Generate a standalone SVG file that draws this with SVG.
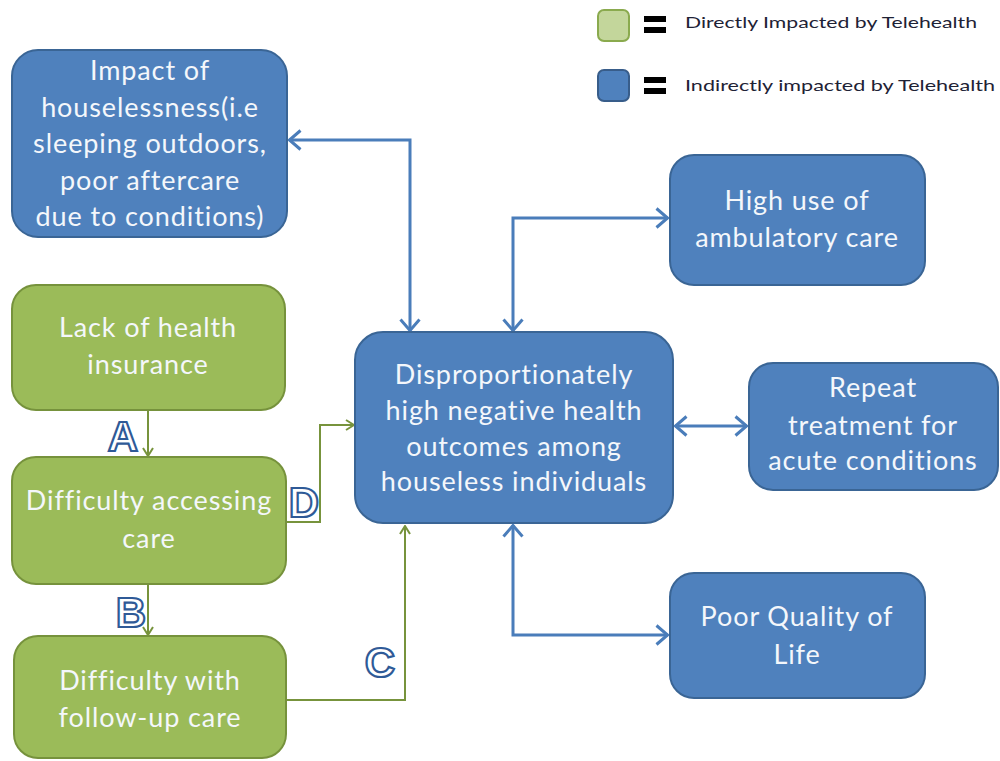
<svg xmlns="http://www.w3.org/2000/svg" width="1000" height="761" viewBox="0 0 1000 761">
  <style>
    .blue { fill: #4F81BD; stroke: #3A6595; stroke-width: 2; }
    .green { fill: #9BBB59; stroke: #76923C; stroke-width: 2; }
    .lbl { font-family: Lato, "Liberation Sans", sans-serif; font-size: 27px; letter-spacing: 0.9px; fill: #F4F7FB; text-anchor: middle; }
    .legend { font-family: Lato, "Liberation Sans", sans-serif; font-size: 16px; fill: #1E2235; }
    .conn-b { fill: none; stroke: #4A7DBA; stroke-width: 3; }
    .conn-g { fill: none; stroke: #77933C; stroke-width: 2; }
    .tag { font-family: "Liberation Sans", Arial, sans-serif; font-size: 42px; font-weight: bold; fill: #FFFFFF; stroke: #2F5A97; stroke-width: 2.2; text-anchor: middle; }
  </style>
  <defs>
    <marker id="ab" viewBox="0 0 14 22" refX="13" refY="11" markerWidth="14" markerHeight="22" markerUnits="userSpaceOnUse" orient="auto-start-reverse">
      <path d="M1.5,1.5 L12.5,11 L1.5,20.5" fill="none" stroke="#4A7DBA" stroke-width="3"/>
    </marker>
    <marker id="ag" viewBox="0 0 10 12" refX="9" refY="6" markerWidth="10" markerHeight="12" markerUnits="userSpaceOnUse" orient="auto">
      <path d="M1,1 L9,6 L1,11" fill="none" stroke="#77933C" stroke-width="2"/>
    </marker>
  </defs>

  <rect width="1000" height="761" fill="#FFFFFF"/>

  <!-- legend -->
  <g id="legend">
    <rect x="598" y="10" width="31" height="31" rx="6" fill="#C3D69B" stroke="#8AAA4E" stroke-width="2"/>
    <rect x="644" y="16" width="22" height="6" fill="#000"/>
    <rect x="644" y="27" width="22" height="6" fill="#000"/>
    <text class="legend" x="685" y="28" textLength="292" lengthAdjust="spacingAndGlyphs">Directly Impacted  by Telehealth</text>
    <rect x="598" y="70" width="31" height="31" rx="6" fill="#4F81BD" stroke="#385D8A" stroke-width="2"/>
    <rect x="644" y="77" width="22" height="6" fill="#000"/>
    <rect x="644" y="88" width="22" height="6" fill="#000"/>
    <text class="legend" x="685" y="91" textLength="310" lengthAdjust="spacingAndGlyphs">Indirectly impacted by Telehealth</text>
  </g>

  <!-- connectors -->
  <g id="connectors">
    <path class="conn-b" d="M410,331 V140 H289" marker-start="url(#ab)" marker-end="url(#ab)"/>
    <path class="conn-b" d="M513,331 V218 H668" marker-start="url(#ab)" marker-end="url(#ab)"/>
    <path class="conn-b" d="M675,426 H747" marker-start="url(#ab)" marker-end="url(#ab)"/>
    <path class="conn-b" d="M513,525 V635 H668" marker-start="url(#ab)" marker-end="url(#ab)"/>
    <path class="conn-g" d="M148,411 V456" marker-end="url(#ag)"/>
    <path class="conn-g" d="M148,585 V635" marker-end="url(#ag)"/>
    <path class="conn-g" d="M286,522 H320 V425 H354" marker-end="url(#ag)"/>
    <path class="conn-g" d="M286,700 H405 V526" marker-end="url(#ag)"/>
    <text class="tag" x="123" y="451">A</text>
    <text class="tag" x="131" y="627">B</text>
    <text class="tag" x="304" y="517">D</text>
    <text class="tag" x="380" y="677">C</text>
  </g>

  <!-- nodes -->
  <g id="impact">
    <rect class="blue" x="12" y="50" width="275" height="187" rx="26"/>
    <text class="lbl" x="150" y="80">Impact of</text>
    <text class="lbl" x="150" y="117">houselessness(i.e</text>
    <text class="lbl" x="150" y="153">sleeping outdoors,</text>
    <text class="lbl" x="150" y="190">poor aftercare</text>
    <text class="lbl" x="150" y="226">due to conditions)</text>
  </g>

  <g id="insurance">
    <rect class="green" x="12" y="285" width="273" height="125" rx="24"/>
    <text class="lbl" x="148" y="337">Lack of health</text>
    <text class="lbl" x="148" y="374">insurance</text>
  </g>

  <g id="access">
    <rect class="green" x="12" y="457" width="274" height="127" rx="24"/>
    <text class="lbl" x="149" y="510">Difficulty accessing</text>
    <text class="lbl" x="149" y="548">care</text>
  </g>

  <g id="followup">
    <rect class="green" x="14" y="636" width="272" height="122" rx="24"/>
    <text class="lbl" x="150" y="690">Difficulty with</text>
    <text class="lbl" x="150" y="727">follow-up care</text>
  </g>

  <g id="outcomes">
    <rect class="blue" x="355" y="332" width="318" height="191" rx="28"/>
    <text class="lbl" x="514" y="384">Disproportionately</text>
    <text class="lbl" x="514" y="420">high negative health</text>
    <text class="lbl" x="514" y="456">outcomes among</text>
    <text class="lbl" x="514" y="491">houseless individuals</text>
  </g>

  <g id="ambulatory">
    <rect class="blue" x="670" y="155" width="255" height="130" rx="24"/>
    <text class="lbl" x="797" y="210">High use of</text>
    <text class="lbl" x="797" y="247">ambulatory care</text>
  </g>

  <g id="repeat">
    <rect class="blue" x="749" y="363" width="249" height="127" rx="24"/>
    <text class="lbl" x="873" y="397">Repeat</text>
    <text class="lbl" x="873" y="435">treatment for</text>
    <text class="lbl" x="873" y="470">acute conditions</text>
  </g>

  <g id="quality">
    <rect class="blue" x="670" y="573" width="255" height="125" rx="24"/>
    <text class="lbl" x="797" y="626">Poor Quality of</text>
    <text class="lbl" x="797" y="664">Life</text>
  </g>
</svg>
